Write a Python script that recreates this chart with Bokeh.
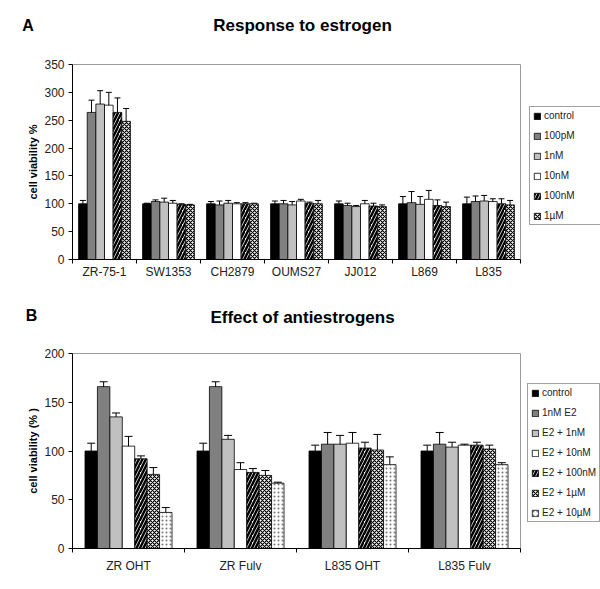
import math
from bokeh.plotting import figure
from bokeh.models import (Range1d, FixedTicker, Label, Legend, Whisker, TeeHead,
                          ColumnDataSource)
from bokeh.layouts import column
from bokeh.embed import file_html
from bokeh.resources import INLINE

# ---------------- data: panel A ----------------
cells_a = ["ZR-75-1", "SW1353", "CH2879", "OUMS27", "JJ012", "L869", "L835"]
series_a = ["control", "100pM", "1nM", "10nM", "100nM", "1\u00b5M"]
control_a = [100, 100, 100, 100, 100, 100, 100]
pm100_a = [264, 104, 98, 100, 97, 102, 104]
nm1_a = [279, 103, 101, 98, 95, 99, 105]
nm10_a = [277, 101, 100, 105, 100, 108, 104]
nm100_a = [264, 99, 100, 101, 96, 97, 100]
um1_a = [248, 98, 100, 100, 95, 95, 98]
control_a_err = [6, 1, 4, 5, 5, 13, 12]
pm100_a_err = [22, 3, 7, 6, 4, 20, 10]
nm1_a_err = [24, 7, 5, 6, 2, 14, 10]
nm10_a_err = [23, 5, 2, 3, 6, 16, 5]
nm100_a_err = [26, 1, 2, 2, 5, 10, 9]
um1_a_err = [23, 1, 1, 6, 3, 8, 8]
yticks_a = [0, 50, 100, 150, 200, 250, 300, 350]

# ---------------- data: panel B ----------------
groups_b = ["ZR OHT", "ZR Fulv", "L835 OHT", "L835 Fulv"]
series_b = ["control", "1nM E2", "E2 + 1nM", "E2 + 10nM", "E2 + 100nM",
            "E2 + 1\u00b5M", "E2 + 10\u00b5M"]
control_b = [100, 100, 100, 100]
e2_b = [166, 166, 107, 107]
e2_nm1_b = [135, 112, 107, 104]
e2_nm10_b = [105, 81, 108, 106]
e2_nm100_b = [92, 78, 103, 106]
e2_um1_b = [76, 75, 101, 102]
e2_um10_b = [37, 67, 86, 86]
control_b_err = [8, 8, 6, 6]
e2_b_err = [5, 5, 12, 12]
e2_nm1_b_err = [4, 4, 9, 5]
e2_nm10_b_err = [10, 7, 11, 1]
e2_nm100_b_err = [3, 4, 6, 3]
e2_um1_b_err = [7, 5, 16, 4]
e2_um10_b_err = [5, 1, 8, 2]
yticks_b = [0, 50, 100, 150, 200]

FONT = "Liberation Sans"
TXT = "#222222"
W = 600  # canvas width

STYLES = {
    "black": dict(fill_color="black"),
    "dark": dict(fill_color="#808080"),
    "light": dict(fill_color="#c0c0c0"),
    "white": dict(fill_color="white"),
    "stripe": dict(fill_color="white", hatch_pattern="/", hatch_color="black",
                   hatch_scale=7, hatch_weight=2.5),
    "checker": dict(fill_color="white", hatch_pattern="x", hatch_color="black",
                    hatch_scale=4, hatch_weight=1.2),
    "dots": dict(fill_color="white", hatch_pattern=".", hatch_color="#777777",
                 hatch_scale=4, hatch_weight=1),
}


def make_panel(cats, names, vals, errs, styles, yticks, height,
               ax_left, ax_right, ax_bottom, ax_top, ylabel, bar_w, head, std,
               letter, letter_xy, title, title_xy, leg_xy):
    """ax_* : where the plot box (x 0..n, y 0..max tick) sits on the canvas, px."""
    n = len(cats)
    ymax = yticks[-1]
    ppx = (ax_right - ax_left) / n
    ppy = (ax_bottom - ax_top) / ymax
    xr = Range1d(-ax_left / ppx, n + (W - ax_right) / ppx)
    yr = Range1d(-(height - ax_bottom) / ppy, ymax + ax_top / ppy)
    p = figure(width=W, height=height, output_backend="svg",
               toolbar_location=None, x_range=xr, y_range=yr,
               min_border=0, min_border_left=0, min_border_right=0,
               min_border_top=0, min_border_bottom=0)
    p.grid.visible = False
    p.outline_line_color = None

    # grey plot-area border (top and right)
    p.line(x=[0, n, n], y=[ymax, ymax, 0], line_color="#9a9a9a", line_width=1)

    items = []
    for j in range(len(names)):
        xs = [i + 0.5 + (j - (len(names) - 1) / 2) * bar_w for i in range(n)]
        st = STYLES[styles[j]]
        r = p.vbar(x=xs, top=vals[j], bottom=0, width=bar_w,
                   line_color="black", line_width=0.8, **st)
        items.append((names[j], [r]))
        src = ColumnDataSource(dict(
            x=xs,
            up=[v + e for v, e in zip(vals[j], errs[j])],
            lo=[v - e for v, e in zip(vals[j], errs[j])]))
        w = Whisker(base="x", upper="up", lower="lo", source=src,
                    line_color="black", line_width=1,
                    upper_head=TeeHead(size=head, line_color="black", line_width=1),
                    lower_head=TeeHead(size=head, line_color="black", line_width=1))
        p.add_layout(w)

    legend = Legend(items=items, location=leg_xy,
                    label_text_font=FONT, label_text_font_size="10px",
                    label_text_color=TXT, glyph_width=8, glyph_height=8,
                    label_height=8, label_width=54, label_standoff=3,
                    spacing=9, padding=3, margin=0,
                    border_line_color="#444444", border_line_width=1,
                    background_fill_color="white", background_fill_alpha=1)
    p.add_layout(legend, "center")

    xa = p.xaxis[0]
    xa.fixed_location = 0
    xa.bounds = (0, n)
    xa.ticker = FixedTicker(ticks=[i + 0.5 for i in range(n)],
                            minor_ticks=list(range(n + 1)))
    xa.major_label_overrides = {i + 0.5: c for i, c in enumerate(cats)}
    xa.major_tick_out = 0
    xa.major_tick_in = 0
    xa.minor_tick_out = 4
    xa.minor_tick_in = 0
    xa.minor_tick_line_color = "black"
    xa.axis_line_color = "black"
    xa.major_label_text_font = FONT
    xa.major_label_text_font_size = "12px"
    xa.major_label_text_color = TXT
    xa.major_label_standoff = std

    ya = p.yaxis[0]
    ya.fixed_location = 0
    ya.bounds = (0, ymax)
    ya.ticker = FixedTicker(ticks=yticks)
    ya.minor_tick_line_color = None
    ya.major_tick_out = 4
    ya.major_tick_in = 0
    ya.major_tick_line_color = "black"
    ya.axis_line_color = "black"
    ya.major_label_text_font = FONT
    ya.major_label_text_font_size = "12px"
    ya.major_label_text_color = TXT
    ya.major_label_standoff = 4

    # y-axis title, panel letter and chart title (screen px from bottom-left)
    p.add_layout(Label(x=32, y=height - (ax_top + ax_bottom) / 2,
                       x_units="screen", y_units="screen", text=ylabel,
                       angle=math.pi / 2, text_font=FONT,
                       text_font_style="bold", text_font_size="11px",
                       text_align="center", text_baseline="middle",
                       text_color="black"))
    p.add_layout(Label(x=letter_xy[0], y=height - letter_xy[1],
                       x_units="screen", y_units="screen", text=letter,
                       text_font=FONT, text_font_style="bold",
                       text_font_size="16px", text_align="center",
                       text_baseline="middle", text_color="black"))
    p.add_layout(Label(x=title_xy[0], y=height - title_xy[1],
                       x_units="screen", y_units="screen", text=title,
                       text_font=FONT, text_font_style="bold",
                       text_font_size="17px", text_align="center",
                       text_baseline="middle", text_color="black"))
    return p


# panel A: canvas rows 0..290
pA = make_panel(cells_a, series_a,
                [control_a, pm100_a, nm1_a, nm10_a, nm100_a, um1_a],
                [control_a_err, pm100_a_err, nm1_a_err, nm10_a_err,
                 nm100_a_err, um1_a_err],
                ["black", "dark", "light", "white", "stripe", "checker"],
                yticks_a, 290, 72, 520, 259, 64, "cell viability %",
                0.135, 6, 1, "A", (27.5, 25), "Response to estrogen",
                (302, 25), (529, 65))

# panel B: canvas rows 290..589
pB = make_panel(groups_b, series_b,
                [control_b, e2_b, e2_nm1_b, e2_nm10_b, e2_nm100_b, e2_um1_b,
                 e2_um10_b],
                [control_b_err, e2_b_err, e2_nm1_b_err, e2_nm10_b_err,
                 e2_nm100_b_err, e2_um1_b_err, e2_um10_b_err],
                ["black", "dark", "light", "white", "stripe", "checker", "dots"],
                yticks_b, 299, 72, 520, 258, 63, "cell viability (% )",
                0.111, 8, 6, "B", (31, 25), "Effect of antiestrogens",
                (302, 27), (527, 67))

layout = column(pA, pB, spacing=0)
open("out.html", "w").write(file_html(layout, INLINE))
